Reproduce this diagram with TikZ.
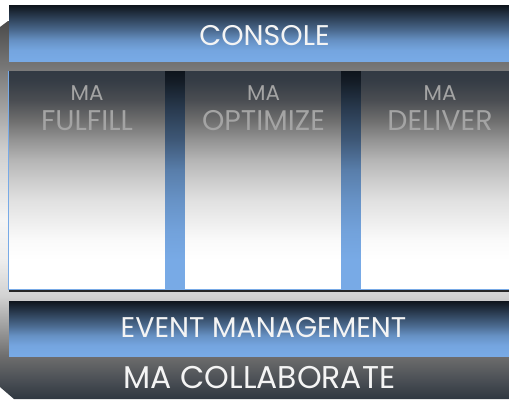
\documentclass[tikz,border=0pt]{standalone}
\usepackage{fontspec}
\setmainfont{Poppins}
\usetikzlibrary{positioning}

\definecolor{barblue}{HTML}{78AAE6}
\definecolor{slate}{HTML}{323A44}
\definecolor{slatemid}{HTML}{353C45}
\definecolor{slatelow}{HTML}{4A4D52}
\definecolor{bgbottom}{HTML}{2F3741}
\definecolor{bgtop}{HTML}{4A4A4A}
\definecolor{coltext}{HTML}{A4A4A4}
\definecolor{bartext}{HTML}{F4F4F4}

\pgfdeclareverticalshading{bgshade}{100bp}{color(0bp)=(bgbottom); color(25bp)=(bgbottom);
  color(30.7bp)=(black!57); color(38.6bp)=(black!18); color(43.4bp)=(black!7); color(48.7bp)=(black!4);
  color(57.9bp)=(black!19); color(64.5bp)=(black!40); color(69.2bp)=(black!54); color(75bp)=(bgtop); color(100bp)=(bgtop)}
\pgfdeclareverticalshading{barshade}{100bp}{color(0bp)=(barblue); color(25bp)=(barblue); color(34.8bp)=(barblue!97!black);
  color(43.7bp)=(barblue!85!black); color(52.7bp)=(barblue!62!black); color(61.6bp)=(barblue!42!black);
  color(70.5bp)=(barblue!22!black); color(75bp)=(barblue!12!black); color(100bp)=(barblue!12!black)}
\pgfdeclareverticalshading{gapshade}{100bp}{color(0bp)=(barblue); color(25bp)=(barblue); color(31.8bp)=(barblue);
  color(38.7bp)=(barblue!95!black); color(45.5bp)=(barblue!86!black); color(52.4bp)=(barblue!74!black);
  color(59.2bp)=(barblue!52!black); color(66.1bp)=(barblue!35!black); color(72.9bp)=(barblue!16!black);
  color(75bp)=(barblue!12!black); color(100bp)=(barblue!12!black)}
\pgfdeclareverticalshading{colshade}{100bp}{color(0bp)=(white); color(25bp)=(white); color(31.8bp)=(white);
  color(36.4bp)=(black!2); color(41bp)=(black!7); color(45.5bp)=(black!12); color(50.1bp)=(black!20);
  color(54.7bp)=(black!29); color(59.2bp)=(black!42); color(63.8bp)=(black!57); color(68.4bp)=(slatelow);
  color(72.9bp)=(slatemid); color(75bp)=(slate); color(100bp)=(slate)}

\tikzset{
  bar/.style={shading=barshade},
  gap/.style={shading=gapshade},
  panel/.style={shading=colshade},
  bartitle/.style={text=bartext, font=\fontsize{16.2}{18}\selectfont, anchor=base, inner sep=0pt},
  coltop/.style={text=coltext, font=\fontsize{12.2}{14}\selectfont, anchor=base, inner sep=0pt},
  colname/.style={text=coltext, font=\fontsize{16.2}{18}\selectfont, anchor=base, inner sep=0pt}
}

\begin{document}
\begin{tikzpicture}[x=0.02cm,y=-0.02cm]
\useasboundingbox (0,0) rectangle (509,399);
\shade[shading=bgshade] (0,27) -- (8,21) -- (509,21) -- (509,399) -- (14,399) -- (0,387) -- cycle;
\shade[bar] (9,5) rectangle (509,61);
\shade[panel] (9,71) rectangle (165,290);
\shade[gap] (165,71) rectangle (185,290);
\shade[panel] (185,71) rectangle (341,290);
\shade[gap] (341,71) rectangle (361,290);
\shade[panel] (361,71) rectangle (509,290);
\draw[barblue, line width=0.6pt] (8.5,71) -- (8.5,289.5) -- (509,289.5);
\draw[black!85, line width=0.6pt] (9,291) -- (509,291);
\shade[bar] (9,301) rectangle (509,356);
\node[bartitle] (console) at (264.5,45) {CONSOLE};
\node[coltop] (ma1) at (87,100) {MA};
\node[colname] (fulfill) at (87,130) {FULFILL};
\node[coltop] (ma2) at (263.5,100) {MA};
\node[colname] (optimize) at (263.5,130) {OPTIMIZE};
\node[coltop] (ma3) at (440,100) {MA};
\node[colname] (deliver) at (440,130) {DELIVER};
\node[bartitle] (events) at (263.5,337) {EVENT MANAGEMENT};
\node[bartitle, font=\fontsize{17.9}{20}\selectfont] (collab) at (259.5,388.5) {MA COLLABORATE};
\end{tikzpicture}
\end{document}
